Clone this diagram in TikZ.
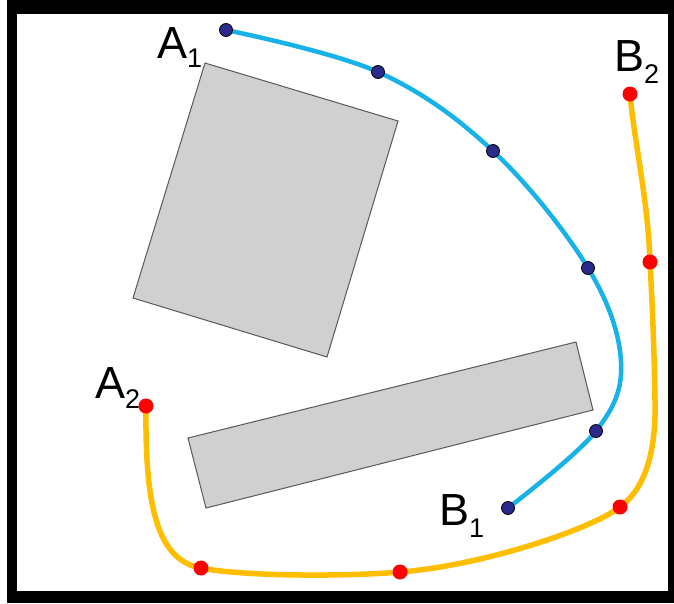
\documentclass[tikz,border=0pt]{standalone}
\usepackage{fontspec}
\setmainfont{Liberation Sans}
\definecolor{bluec}{RGB}{22,178,232}
\definecolor{orangec}{RGB}{255,190,0}
\definecolor{navy}{RGB}{42,42,140}
\definecolor{boxgray}{RGB}{208,208,208}
\tikzset{
  obstacle/.style={fill=boxgray, draw=black!65, line width=1pt},
  bluepath/.style={draw=bluec, line width=4.5pt, line cap=round},
  orangepath/.style={draw=orangec, line width=5.5pt, line cap=round},
  bluedot/.style={circle, fill=navy, draw=black, line width=0.8pt, minimum size=13pt, inner sep=0pt},
  reddot/.style={circle, fill=red, minimum size=15pt, inner sep=0pt},
  lbl/.style={anchor=base west, inner sep=0pt, font=\fontsize{45}{45}\selectfont}
}
\begin{document}
\begin{tikzpicture}[x=1pt,y=-1pt]
\useasboundingbox (0,0) rectangle (674,603);
% frame
\fill[black] (7,0) rectangle (674,603);
\fill[white] (17,14) rectangle (668,591);
% obstacles
\draw[obstacle] (205,63) -- (398,121) -- (327,357) -- (133,298) -- cycle;
\draw[obstacle] (188,438) -- (576,342) -- (593,410) -- (206,508) -- cycle;
% blue path points
\coordinate (a1) at (226,30);
\coordinate (b1p1) at (378,72);
\coordinate (b1p2) at (493,151);
\coordinate (b1p3) at (588,268);
\coordinate (b1m) at (621,362);
\coordinate (b1p4) at (596,431);
\coordinate (b1) at (508,508);
% orange path points
\coordinate (a2) at (146,406);
\coordinate (op1) at (201,568);
\coordinate (op2) at (400,572);
\coordinate (op3) at (620,507);
\coordinate (o2) at (655,400);
\coordinate (op4) at (650,262);
\coordinate (b2) at (630,94);
% paths
\draw[bluepath] plot[smooth, tension=0.6] coordinates {(a1) (b1p1) (b1p2) (b1p3) (b1m) (b1p4) (b1)};
\draw[orangepath] (a2) .. controls (145,500) and (155,560) .. (op1)
  .. controls (240,576) and (340,577) .. (op2)
  .. controls (480,566) and (590,530) .. (op3)
  .. controls (650,485) and (656,440) .. (o2)
  .. controls (654,340) and (652,300) .. (op4)
  .. controls (648,200) and (634,140) .. (b2);
% dots
\foreach \c in {a1,b1p1,b1p2,b1p3,b1p4,b1} \node[bluedot] (d\c) at (\c) {};
\foreach \c in {a2,op1,op2,op3,op4,b2} \node[reddot] (d\c) at (\c) {};
% labels
\node[lbl] (la1) at (157,58) {A\raisebox{-9pt}{\fontsize{27}{27}\selectfont 1}};
\node[lbl] (la2) at (95,398) {A\raisebox{-10pt}{\fontsize{27}{27}\selectfont 2}};
\node[lbl] (lb1) at (439,525) {B\raisebox{-12pt}{\fontsize{27}{27}\selectfont 1}};
\node[lbl] (lb2) at (614,71) {B\raisebox{-12pt}{\fontsize{27}{27}\selectfont 2}};
\end{tikzpicture}
\end{document}
